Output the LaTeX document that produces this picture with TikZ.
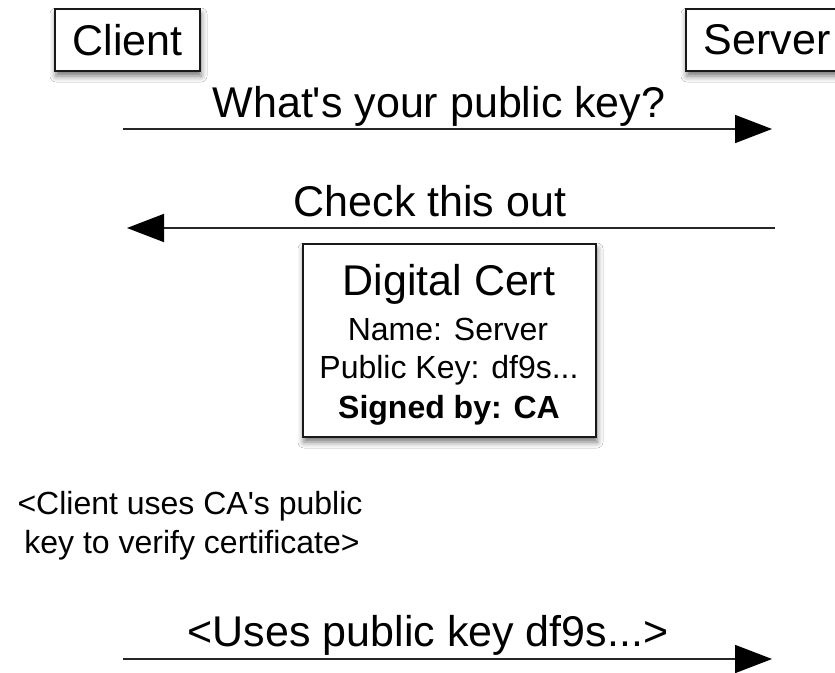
\documentclass[tikz,border=0pt]{standalone}
\usepackage{fontspec}
\setmainfont{Liberation Sans}[Ligatures=TeXOff]
\usetikzlibrary{arrows.meta,shadows.blur}
\begin{document}
\begin{tikzpicture}[x=1pt,y=-1pt,
  boxshadow/.style={blur shadow={shadow xshift=1pt, shadow yshift=-5pt, shadow blur radius=6pt, shadow opacity=55}},
  actor/.style={draw=black!90, line width=1.4pt, fill=white, minimum height=62pt, inner sep=0pt,
    font=\fontsize{43}{50}\selectfont, boxshadow},
  certbox/.style={draw=black!90, line width=1.4pt, fill=white, inner sep=0pt, boxshadow},
  msg/.style={draw=black!85, line width=1.7pt, -{Triangle[length=37pt,width=28pt,fill=black,color=black]}},
  lbl/.style={anchor=base, inner sep=0pt, font=\fontsize{43}{50}\selectfont},
  small/.style={anchor=base, inner sep=0pt, font=\fontsize{32}{38}\selectfont}]
\clip (0,0) rectangle (835,672);
\fill[white] (0,0) rectangle (835,672);

% actors
\node[actor, minimum width=145pt] (client) at (127.5,40) {Client};
\node[actor, minimum width=162pt] (server) at (767,40) {Server};

% message 1
\coordinate (c1) at (123,129);
\coordinate (s1) at (772,129);
\draw[msg] (c1) -- (s1);
\node[lbl] (l1) at (439,117) {What's your public key?};

% message 2
\coordinate (s2) at (775,228);
\coordinate (c2) at (127,228);
\draw[msg] (s2) -- (c2);
\node[lbl] (l2) at (430,216) {Check this out};

% certificate
\node[certbox, minimum width=293pt, minimum height=193pt] (cert) at (449.5,340.5) {};
\node[lbl] (t1) at (449,295) {Digital Cert};
\node[small] (t2) at (448,340) {Name: Server};
\node[small] (t3) at (449,378) {Public Key: df9s...};
\node[small, font=\fontsize{32}{38}\selectfont\bfseries] (t4) at (449,418) {Signed by: CA};

% note
\node[small] (n1) at (190,514) {<Client uses CA's public};
\node[small] (n2) at (192,553) {key to verify certificate>};

% message 3
\coordinate (c3) at (123,659);
\coordinate (s3) at (772,659);
\draw[msg] (c3) -- (s3);
\node[lbl] (l3) at (428,646) {<Uses public key df9s...>};
\end{tikzpicture}
\end{document}
